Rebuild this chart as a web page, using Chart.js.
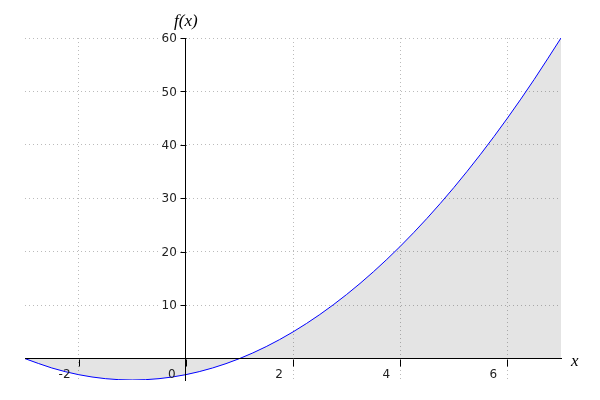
<!DOCTYPE html>
<html>
<head>
<meta charset="utf-8">
<script src="https://cdn.jsdelivr.net/npm/chart.js@4"></script>
<style>
  html, body { margin: 0; padding: 0; background: #fff; }
  #wrap { width: 600px; height: 400px; }
</style>
</head>
<body>
<div id="wrap"><canvas id="myChart" width="600" height="400"></canvas></div>
<script>
// values
const xs = [-3, -2.5, -2, -1.5, -1, -0.5, 0, 0.5, 1, 1.5, 2, 2.5, 3, 3.5, 4, 4.5, 5, 5.5, 6, 6.5, 7];
const ys = [0, -1.75, -3, -3.75, -4, -3.75, -3, -1.75, 0, 2.25, 5, 8.25, 12, 16.25, 21, 26.25, 32, 38.25, 45, 52.25, 60];
const xTicks = [-2, 0, 2, 4, 6];
const yTicks = [10, 20, 30, 40, 50, 60];

const points = [];
for (let i = 0; i < xs.length; i++) {
    points.push({ x: xs[i], y: ys[i] });
}

// tick marks, y labels and axis names
// (the library puts y labels right on top of a positioned axis)
const axisLabels = {
    id: 'axisLabels',
    afterDraw(chart) {
        const ctx = chart.ctx;
        const area = chart.chartArea;
        const sx = chart.scales.x;
        const sy = chart.scales.y;
        const x0 = sx.getPixelForValue(0);
        const y0 = sy.getPixelForValue(0);
        ctx.save();

        ctx.font = '12px "DejaVu Sans", sans-serif';
        ctx.textAlign = 'right';
        ctx.textBaseline = 'middle';
        sy.ticks.forEach(function(t) {
            const py = sy.getPixelForValue(t.value);
            const txt = String(t.value);
            const w = ctx.measureText(txt).width;
            ctx.fillStyle = '#fff';
            ctx.fillRect(x0 - 9 - w - 2, py - 7, w + 3, 14);
            ctx.fillStyle = '#222';
            ctx.fillText(txt, x0 - 9, py + 1);
        });

        ctx.strokeStyle = '#000';
        ctx.lineWidth = 1;
        const ax = Math.round(x0) + 0.5;
        const ay = Math.round(y0) + 0.5;
        sy.ticks.forEach(function(t) {
            const py = Math.round(sy.getPixelForValue(t.value)) + 0.5;
            ctx.beginPath();
            ctx.moveTo(ax - 6, py);
            ctx.lineTo(ax, py);
            ctx.stroke();
        });
        sx.ticks.forEach(function(t) {
            const px = Math.round(sx.getPixelForValue(t.value)) + 0.5;
            ctx.beginPath();
            ctx.moveTo(px, ay);
            ctx.lineTo(px, ay + 7);
            ctx.stroke();
        });

        ctx.fillStyle = '#000';
        ctx.font = 'italic 17px "Liberation Serif", "DejaVu Serif", serif';
        ctx.textBaseline = 'alphabetic';
        ctx.textAlign = 'center';
        ctx.fillText('f(x)', x0, area.top - 12);
        ctx.textAlign = 'left';
        ctx.fillText('x', area.right + 10, y0 + 7);
        ctx.restore();
    }
};

const tickFont = { family: '"DejaVu Sans", sans-serif', size: 12 };

const ctx = document.getElementById('myChart').getContext('2d');
const myChart = new Chart(ctx, {
    type: 'line',
    data: {
        datasets: [{
            data: points,
            borderColor: '#0000ff',
            borderWidth: 1,
            backgroundColor: 'rgba(0, 0, 0, 0.105)',
            fill: 'origin',
            pointRadius: 0,
            cubicInterpolationMode: 'monotone'
        }]
    },
    options: {
        responsive: false,
        animation: false,
        layout: { padding: { left: 25, right: 39, top: 38, bottom: 20 } },
        plugins: {
            legend: { display: false },
            tooltip: { enabled: false }
        },
        scales: {
            x: {
                type: 'linear',
                position: { y: 0 },
                min: -3,
                max: 7,
                afterBuildTicks: function(s) {
                    s.ticks = xTicks.map(v => ({ value: v }));
                },
                grid: { color: '#bbbbbb', drawTicks: false },
                border: { color: '#000', width: 1, dash: [1, 3], z: 1 },
                ticks: {
                    color: '#222',
                    font: tickFont,
                    labelOffset: -14,
                    maxRotation: 0,
                    autoSkip: false,
                    padding: 9,
                    z: 1
                }
            },
            y: {
                type: 'linear',
                position: { x: 0 },
                min: -4,
                max: 60,
                afterBuildTicks: function(s) {
                    s.ticks = yTicks.map(v => ({ value: v }));
                },
                grid: { color: '#bbbbbb', drawTicks: false },
                border: { color: '#000', width: 1, dash: [1, 3], z: 1 },
                ticks: { display: false }
            }
        }
    },
    plugins: [axisLabels]
});
</script>
</body>
</html>
